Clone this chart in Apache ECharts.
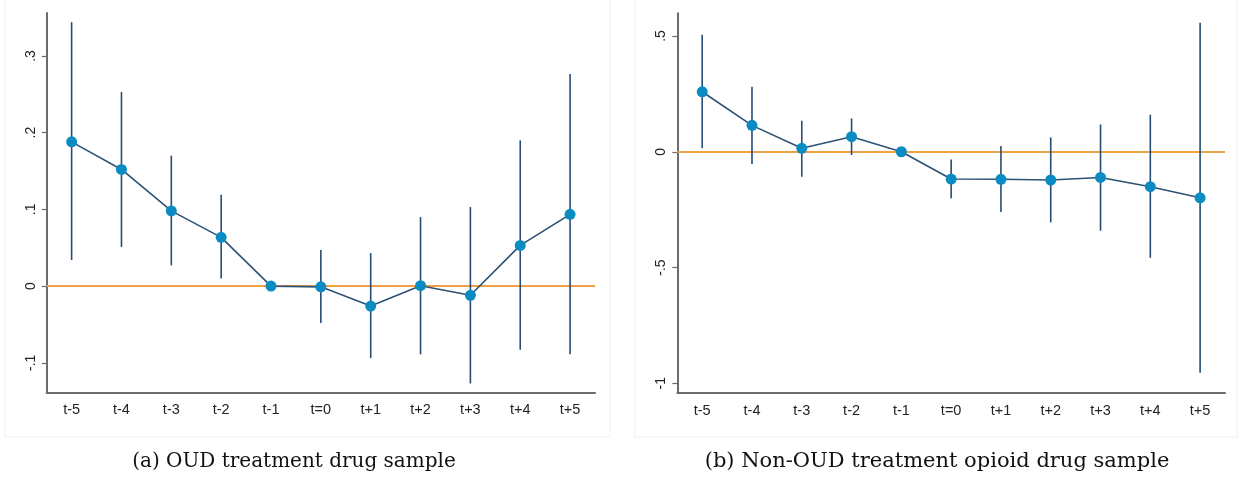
<!DOCTYPE html>
<html>
<head>
<meta charset="utf-8">
<script src="https://cdn.jsdelivr.net/npm/echarts@6/dist/echarts.min.js"></script>
<style>
  html, body { margin: 0; padding: 0; background: #fff; }
  #main { width: 1239px; height: 482px; }
</style>
</head>
<body>
<div id="main"></div>
<script>
// event-time categories
var periods = ['t-5', 't-4', 't-3', 't-2', 't-1', 't=0', 't+1', 't+2', 't+3', 't+4', 't+5']

// (a) OUD treatment drug sample
var oudCoef = [0.188, 0.152, 0.098, 0.0635, 0, -0.001, -0.026, 0.0005, -0.012, 0.053, 0.0935]
var oudLow = [0.034, 0.051, 0.027, 0.010, null, -0.048, -0.094, -0.089, -0.127, -0.083, -0.089]
var oudHigh = [0.344, 0.253, 0.170, 0.119, null, 0.047, 0.043, 0.090, 0.103, 0.190, 0.2765]
var oudTicks = [-0.1, 0, 0.1, 0.2, 0.3]

// (b) Non-OUD treatment opioid drug sample
var nonCoef = [0.259, 0.114, 0.015, 0.065, 0, -0.118, -0.119, -0.122, -0.111, -0.151, -0.199]
var nonLow = [0.015, -0.053, -0.108, -0.014, null, -0.201, -0.260, -0.305, -0.341, -0.458, -0.954]
var nonHigh = [0.505, 0.281, 0.134, 0.144, null, -0.033, 0.025, 0.062, 0.118, 0.160, 0.557]
var nonTicks = [-1, -0.5, 0, 0.5]

var captions = ['(a) OUD treatment drug sample', '(b) Non-OUD treatment opioid drug sample']

var chart = echarts.init(document.getElementById('main'))

// stata style labels: .3, -.1, 0
function stataFmt(v) {
  var s = String(Math.round(v * 10) / 10)
  return s.replace(/^(-?)0\./, '$1.')
}

function ciData(low, high) {
  return low.map(function (l, i) { return [i, l, high[i]] })
}

function ciRender(params, api) {
  var lo = api.value(1)
  var hi = api.value(2)
  if (lo == null || isNaN(lo)) return null
  var a = api.coord([api.value(0), lo])
  var b = api.coord([api.value(0), hi])
  return {
    type: 'line',
    shape: { x1: a[0], y1: a[1], x2: b[0], y2: b[1] },
    style: { stroke: '#264d73', lineWidth: 1.6 }
  }
}

function xAxisOpt(idx) {
  return {
    type: 'category',
    gridIndex: idx,
    data: periods,
    boundaryGap: true,
    axisLine: { onZero: false, lineStyle: { color: '#6b6b6b', width: 2 } },
    axisTick: { alignWithLabel: true, length: 5, lineStyle: { color: '#6b6b6b', width: 1.2 } },
    axisLabel: { color: '#222', fontSize: 14.5, fontFamily: 'Liberation Sans', margin: 10 },
    splitLine: { show: false }
  }
}

function yAxisOpt(idx, min, max, ticks) {
  return {
    type: 'value',
    gridIndex: idx,
    min: min,
    max: max,
    axisLine: { show: true, onZero: false, lineStyle: { color: '#6b6b6b', width: 2 } },
    axisTick: { show: true, length: 5, customValues: ticks, lineStyle: { color: '#6b6b6b', width: 1.2 } },
    axisLabel: {
      customValues: ticks,
      rotate: 90,
      color: '#222',
      fontSize: 14,
      fontFamily: 'Liberation Sans',
      margin: 9,
      formatter: stataFmt
    },
    splitLine: { show: false }
  }
}

function pointSeries(idx, data) {
  return {
    type: 'line',
    xAxisIndex: idx,
    yAxisIndex: idx,
    data: data,
    symbol: 'circle',
    symbolSize: 11,
    z: 5,
    lineStyle: { color: '#2c5275', width: 1.6 },
    itemStyle: { color: '#0a8cc2' },
    markLine: {
      silent: true,
      symbol: 'none',
      label: { show: false },
      lineStyle: { color: '#f0a145', type: 'solid', width: 1.8 },
      data: [{ yAxis: 0 }],
      z: 1
    }
  }
}

chart.setOption({
  animation: false,
  backgroundColor: '#fff',
  grid: [
    { left: 46.7, top: 13, width: 548.3, height: 379.7 },
    { left: 677.3, top: 13.3, width: 547.7, height: 379.7 }
  ],
  xAxis: [xAxisOpt(0), xAxisOpt(1)],
  yAxis: [
    yAxisOpt(0, -0.139, 0.356, oudTicks),
    yAxisOpt(1, -1.042, 0.598, nonTicks)
  ],
  graphic: [
    { type: 'rect', shape: { x: 5, y: -2, width: 605, height: 439 }, style: { fill: 'none', stroke: '#efefef', lineWidth: 1 }, z: -10 },
    { type: 'rect', shape: { x: 635, y: -2, width: 602, height: 439 }, style: { fill: 'none', stroke: '#efefef', lineWidth: 1 }, z: -10 },
    { type: 'text', x: 294, y: 462, style: { text: captions[0], fill: '#111', font: '20px "DejaVu Serif"', align: 'center', verticalAlign: 'middle' } },
    { type: 'text', x: 937, y: 462, style: { text: captions[1], fill: '#111', font: '21px "DejaVu Serif"', align: 'center', verticalAlign: 'middle' } }
  ],
  series: [
    {
      type: 'custom',
      xAxisIndex: 0,
      yAxisIndex: 0,
      data: ciData(oudLow, oudHigh),
      renderItem: ciRender,
      encode: { x: 0, y: [1, 2] },
      z: 3
    },
    {
      type: 'custom',
      xAxisIndex: 1,
      yAxisIndex: 1,
      data: ciData(nonLow, nonHigh),
      renderItem: ciRender,
      encode: { x: 0, y: [1, 2] },
      z: 3
    },
    pointSeries(0, oudCoef),
    pointSeries(1, nonCoef)
  ]
})
</script>
</body>
</html>
